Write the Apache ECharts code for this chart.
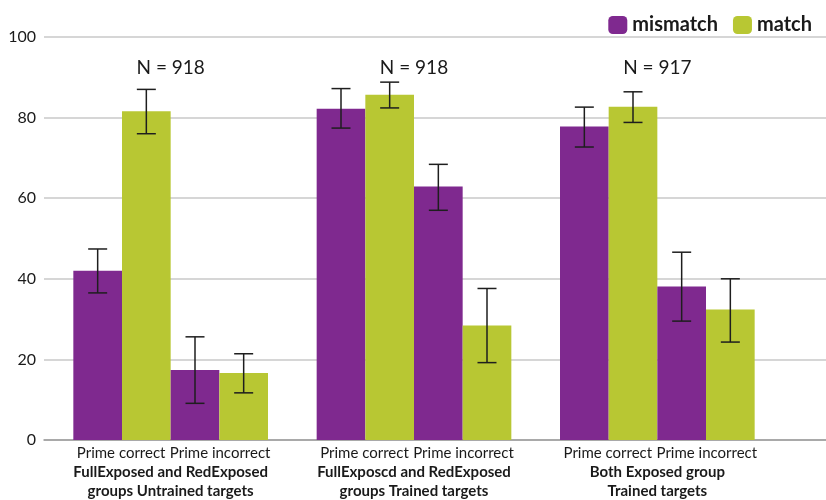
<!DOCTYPE html>
<html>
<head>
<meta charset="utf-8">
<script src="https://cdn.jsdelivr.net/npm/echarts@6/dist/echarts.min.js"></script>
<style>
html,body{margin:0;padding:0;background:#fff;}
#chart{width:826px;height:500px;}
</style>
</head>
<body>
<div id="chart"></div>
<script>
// ---- data ----
const groups = ['FullExposed and RedExposed\ngroups Untrained targets',
                'FullExposcd and RedExposed\ngroups Trained targets',
                'Both Exposed group\nTrained targets'];
const subLabels = ['Prime correct', 'Prime incorrect'];
const nLabels = ['N = 918', 'N = 918', 'N = 917'];
const yTicks = [0, 20, 40, 60, 80, 100];

const mismatchCorrect   = [42.0, 82.2, 77.8];
const matchCorrect      = [81.6, 85.7, 82.7];
const mismatchIncorrect = [17.4, 62.9, 38.1];
const matchIncorrect    = [16.6, 28.4, 32.4];

const errMismatchCorrect   = [[36.5, 47.4], [77.4, 87.2], [72.7, 82.6]];
const errMatchCorrect      = [[76.0, 87.0], [82.4, 88.8], [78.8, 86.4]];
const errMismatchIncorrect = [[9.1, 25.6], [57.0, 68.4], [29.5, 46.6]];
const errMatchIncorrect    = [[11.7, 21.4], [19.2, 37.6], [24.3, 40.0]];

// ---- styles ----
const PURPLE = '#7f298f';
const GREEN = '#b8c733';
const FONT = 'Lato';

const chart = echarts.init(document.getElementById('chart'), null, {renderer: 'canvas'});

const barSeries = (name, color, data) => ({
  type: 'bar', name: name, xAxisIndex: 1, yAxisIndex: 1,
  data: data, itemStyle: {color: color}, barGap: '0%', barCategoryGap: '20%',
  emphasis: {disabled: true}, z: 2
});

const errData = [];
[errMismatchCorrect, errMatchCorrect, errMismatchIncorrect, errMatchIncorrect].forEach((arr, s) => {
  arr.forEach((e, i) => errData.push([i, e[0], e[1], s]));
});

const option = {
  animation: false,
  backgroundColor: '#fff',
  textStyle: {fontFamily: FONT},
  legend: {
    data: ['mismatch', 'match'],
    right: 9, top: 10,
    itemWidth: 19, itemHeight: 18, itemGap: 15,
    icon: 'roundRect',
    textStyle: {fontFamily: FONT, fontSize: 20, fontWeight: 'bold', color: '#1a1a1a'},
    selectedMode: false
  },
  grid: [
    {left: 44, right: 0, top: 37, bottom: 60},
    {left: 49, right: 47, top: 37, bottom: 60}
  ],
  xAxis: [
    {type: 'value', gridIndex: 0, min: 0, max: 1, show: true,
     axisLine: {show: true, lineStyle: {color: '#9a9a9a', width: 1.5}},
     axisTick: {show: false}, axisLabel: {show: false}, splitLine: {show: false}},
    {type: 'category', gridIndex: 1, data: groups,
     axisLine: {show: false}, axisTick: {show: false},
     axisLabel: {
       interval: 0, margin: 3,
       formatter: function (v) {
         const lines = v.split('\n');
         return '{a|' + subLabels[0] + '}{a|' + subLabels[1] + '}\n' +
                lines.map(l => '{b|' + l + '}').join('\n');
       },
       rich: {
         a: {fontFamily: FONT, fontSize: 15, color: '#1a1a1a', width: 99, align: 'center', lineHeight: 20},
         b: {fontFamily: FONT, fontSize: 15, fontWeight: 'bold', color: '#1a1a1a', lineHeight: 19, align: 'center'}
       }
     }}
  ],
  yAxis: [
    {type: 'value', gridIndex: 0, min: 0, max: 100, interval: 20,
     axisLine: {show: false}, axisTick: {show: false},
     axisLabel: {fontFamily: FONT, fontSize: 16, color: '#1a1a1a', margin: 8,
       formatter: v => yTicks.includes(v) ? String(v) : ''},
     splitLine: {show: true, lineStyle: {color: '#c9c9c9', width: 1.5}}},
    {type: 'value', gridIndex: 1, min: 0, max: 100, interval: 20, show: false,
     splitLine: {show: false}}
  ],
  series: [
    barSeries('mismatch', PURPLE, mismatchCorrect),
    barSeries('match', GREEN, matchCorrect),
    barSeries('mismatch', PURPLE, mismatchIncorrect),
    barSeries('match', GREEN, matchIncorrect),
    {
      type: 'custom', name: 'err', xAxisIndex: 1, yAxisIndex: 1, z: 5,
      data: errData, silent: true,
      renderItem: function (params, api) {
        const i = api.value(0), lo = api.value(1), hi = api.value(2), s = api.value(3);
        const center = api.coord([i, 0])[0];
        const bandW = api.size([1, 0])[0];
        const barW = bandW * 0.8 / 4;
        const x = center + (s - 1.5) * barW;
        const yLo = api.coord([i, lo])[1];
        const yHi = api.coord([i, hi])[1];
        const cap = 9.5;
        const st = {stroke: '#1e1e1e', lineWidth: 1.5, fill: null};
        return {type: 'group', children: [
          {type: 'line', shape: {x1: x, y1: yLo, x2: x, y2: yHi}, style: st},
          {type: 'line', shape: {x1: x - cap, y1: yLo, x2: x + cap, y2: yLo}, style: st},
          {type: 'line', shape: {x1: x - cap, y1: yHi, x2: x + cap, y2: yHi}, style: st}
        ]};
      }
    },
    {
      type: 'custom', name: 'n', xAxisIndex: 1, yAxisIndex: 1, z: 5, silent: true,
      data: nLabels.map((t, i) => [i, t]),
      renderItem: function (params, api) {
        const i = api.value(0);
        const p = api.coord([i, 92.4]);
        return {type: 'text', x: p[0], y: p[1], style: {
          text: nLabels[params.dataIndex], fontFamily: FONT, fontSize: 19,
          fill: '#1a1a1a', align: 'center', verticalAlign: 'middle'}};
      }
    }
  ]
};
chart.setOption(option);
</script>
</body>
</html>
